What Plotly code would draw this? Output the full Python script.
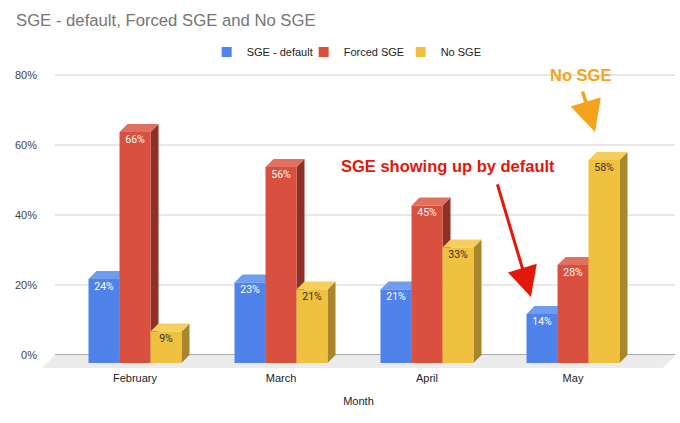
import plotly.graph_objects as go

# values
months = ["February", "March", "April", "May"]
series_names = ["SGE - default", "Forced SGE", "No SGE"]
sge_default = [24, 23, 21, 14]
forced_sge = [66, 56, 45, 28]
no_sge = [9, 21, 33, 58]
y_ticks = [0, 20, 40, 60, 80]

# face colours per series: front, top, side
front_colors = ["#4f83eb", "#d9503e", "#f0c03f"]
top_colors = ["#6f9bf0", "#e0705f", "#f4cf5e"]
side_colors = ["#3b63b3", "#8f2f25", "#a8862c"]
label_colors = ["white", "white", "#333333"]

# geometry, in axis units (one month = 146 px, 1% = 3.5 px on the page)
PX_X = 146.0
PX_Y = 3.5
BAR_W = 31 / PX_X
DX, DY = 8 / PX_X, 8 / PX_Y        # bar depth
FDX, FDY = 13 / PX_X, 13 / PX_Y    # floor depth
X0, X1 = -93 / PX_X, 540 / PX_X
Y0, Y1 = -15 / PX_Y, 285 / PX_Y
FLOOR_R = 528 / PX_X

fig = go.Figure()

# floor under the bars
fig.add_trace(go.Scatter(
    x=[X0, FLOOR_R, FLOOR_R + FDX, X0 + FDX, X0],
    y=[-FDY, -FDY, 0, 0, -FDY],
    fill="toself", fillcolor="#ececec", mode="lines",
    line=dict(width=0), hoverinfo="skip", showlegend=False))

all_values = [sge_default, forced_sge, no_sge]

for j, vals in enumerate(all_values):
    fx, fy, sx, sy, tx, ty = [], [], [], [], [], []
    lx, ly, lt = [], [], []
    for i, v in enumerate(vals):
        xc = i + (j - 1) * BAR_W
        xl, xr = xc - BAR_W / 2, xc + BAR_W / 2
        fx += [xl, xr, xr, xl, xl, None]
        fy += [-DY, -DY, v - DY, v - DY, -DY, None]
        sx += [xr, xr + DX, xr + DX, xr, xr, None]
        sy += [-DY, 0, v, v - DY, -DY, None]
        tx += [xl, xr, xr + DX, xl + DX, xl, None]
        ty += [v - DY, v - DY, v, v, v - DY, None]
        lx.append(xc)
        ly.append(v - DY - 8 / PX_Y)
        lt.append(f"{v}%")
    for xs, ys, col in [(sx, sy, side_colors[j]), (tx, ty, top_colors[j]),
                        (fx, fy, front_colors[j])]:
        fig.add_trace(go.Scatter(
            x=xs, y=ys, fill="toself", fillcolor=col, mode="lines",
            line=dict(width=0), hoverinfo="skip", showlegend=False))
    fig.add_trace(go.Scatter(
        x=lx, y=ly, text=lt, mode="text", textposition="middle center",
        textfont=dict(family="Roboto", size=10.5, color=label_colors[j]),
        hoverinfo="skip", showlegend=False))

# legend entries
for j, name in enumerate(series_names):
    fig.add_trace(go.Scatter(
        x=[None], y=[None], mode="markers", name=name,
        marker=dict(symbol="square", size=10, color=front_colors[j])))

# gridlines on the back wall
shapes = []
for t in y_ticks:
    shapes.append(dict(
        type="line", xref="x", yref="y", layer="below",
        x0=X0 + FDX, x1=X1, y0=t, y1=t,
        line=dict(color="#555555" if t == 0 else "#d0d0d0", width=1)))

annotations = [
    dict(x=2.144, y=54, xref="x", yref="y", text="<b>SGE showing up by default</b>",
         showarrow=False, font=dict(family="Liberation Sans", size=16.5, color="#e3170a")),
    dict(x=2.712, y=16.6, xref="x", yref="y", text="", showarrow=True,
         ax=-34, ay=-114, arrowhead=2, arrowsize=2.0, arrowwidth=3, arrowcolor="#e3170a"),
    dict(x=3.048, y=80, xref="x", yref="y", text="<b>No SGE</b>",
         showarrow=False, font=dict(family="Liberation Sans", size=16.5, color="#f5a21c")),
    dict(x=3.151, y=63.7, xref="x", yref="y", text="", showarrow=True,
         ax=-13, ay=-42, arrowhead=2, arrowsize=1.8, arrowwidth=3.5, arrowcolor="#f5a21c"),
]

fig.update_layout(
    width=680, height=423,
    margin=dict(l=42, r=5, t=70, b=53),
    paper_bgcolor="white", plot_bgcolor="white",
    font=dict(family="Liberation Sans", size=11, color="#222222"),
    title=dict(text="SGE - default, Forced SGE and No SGE", x=16 / 680, xanchor="left",
               y=1 - 20 / 423, yanchor="middle", yref="container",
               font=dict(family="Liberation Sans", size=16.7, color="#757575")),
    legend=dict(orientation="h", x=0.49, xanchor="center", y=1.06, yanchor="middle",
                font=dict(size=11, color="#222222"), itemwidth=30,
                entrywidth=52, entrywidthmode="pixels"),
    shapes=shapes, annotations=annotations,
)
fig.update_xaxes(type="linear", range=[X0, X1], tickvals=list(range(len(months))),
                 ticktext=months, showgrid=False, zeroline=False, showline=False,
                 title=dict(text="Month", standoff=14, font=dict(size=11, color="#222222")),
                 tickfont=dict(size=11, color="#222222"))
fig.update_yaxes(range=[Y0, Y1], tickvals=y_ticks, ticktext=[f"{t}%" for t in y_ticks],
                 showgrid=False, zeroline=False, showline=False, ticklabelstandoff=4,
                 tickfont=dict(size=11, color="#444444"))

fig.write_html("out.html", config={"displayModeBar": False},
               post_script="document.body.style.margin='0';")
